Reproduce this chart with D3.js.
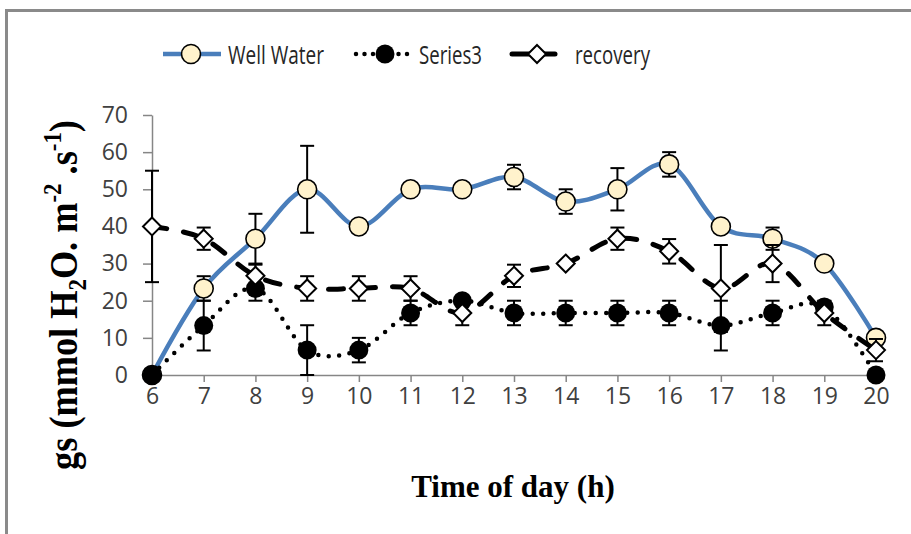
<!DOCTYPE html>
<html>
<head>
<meta charset="utf-8">
<script src="https://cdn.jsdelivr.net/npm/d3@7"></script>
<style>
  body { margin: 0; background: #fff; }
  svg { display: block; }
</style>
</head>
<body>
<div id="chart"></div>
<script>
// hours of the day
var hours = [6, 7, 8, 9, 10, 11, 12, 13, 14, 15, 16, 17, 18, 19, 20];
var yTicks = [0, 10, 20, 30, 40, 50, 60, 70];

// gs values
var wellWater    = [0, 23.3, 36.7, 50, 40, 50, 50, 53.3, 46.7, 50, 56.7, 40, 36.7, 30, 10];
var wellWaterErr = [0, 3.3, 6.7, 11.7, 0, 0, 0, 3.3, 3.3, 5.7, 3.3, 0, 3, 0, 0];
var series3      = [0, 13.3, 23.3, 6.7, 6.7, 16.7, 20, 16.7, 16.7, 16.7, 16.7, 13.3, 16.7, 18.3, 0];
var series3Err   = [0, 6.7, 3.3, 6.7, 3.3, 3.3, 0, 3.3, 3.3, 3.3, 3.3, 6.7, 3.3, 0, 0];
var recovery     = [40, 36.7, 26.7, 23.3, 23.3, 23.3, 16.7, 26.7, 30, 36.7, 33.3, 23.3, 30, 16.7, 6.7];
var recoveryErr  = [15, 3, 3, 3.3, 3.3, 3.3, 3.3, 3, 0, 3, 3.3, 11.7, 5, 3.3, 3];

var width = 911, height = 534;
var svg = d3.select("#chart").append("svg")
    .attr("width", width)
    .attr("height", height);

// frame (top and left edge only, like the cropped figure)
svg.append("line").attr("x1", 5).attr("x2", width).attr("y1", 10.5).attr("y2", 10.5)
    .style("stroke", "#8a8a8a").style("stroke-width", 3);
svg.append("line").attr("x1", 6.5).attr("x2", 6.5).attr("y1", 9).attr("y2", height)
    .style("stroke", "#8a8a8a").style("stroke-width", 3);

var x = d3.scaleLinear().domain([6, 20]).range([152, 876]);
var y = d3.scaleLinear().domain([0, 70]).range([375, 115]);

var axisColor = "#868686";
var tickFont = "'Open Sans', 'Liberation Sans', sans-serif";

// y axis
var yAxis = svg.append("g")
    .attr("transform", "translate(" + x(6) + ",0)")
    .call(d3.axisLeft(y).tickValues(yTicks).tickSize(9).tickPadding(15).tickSizeOuter(0));
yAxis.select(".domain").style("stroke", axisColor).style("stroke-width", 1.5);
yAxis.selectAll(".tick line").style("stroke", axisColor).style("stroke-width", 1.5);
yAxis.selectAll(".tick text")
    .style("font-family", tickFont).style("font-size", "23px").style("fill", "#404040");

// x axis
var xAxis = svg.append("g")
    .attr("transform", "translate(0," + y(0) + ")")
    .call(d3.axisBottom(x).tickValues(hours).tickFormat(d3.format("d")).tickSize(7).tickPadding(6).tickSizeOuter(0));
xAxis.select(".domain").style("stroke", axisColor).style("stroke-width", 1.5);
xAxis.selectAll(".tick line").style("stroke", axisColor).style("stroke-width", 1.5);
xAxis.selectAll(".tick text")
    .style("font-family", tickFont).style("font-size", "23px").style("fill", "#404040");

var smooth = d3.line()
    .x(function (d) { return x(d.h); })
    .y(function (d) { return y(d.v); })
    .curve(d3.curveCardinal.tension(0));

function rows(vals, errs) {
    return hours.map(function (h, i) { return { h: h, v: vals[i], e: errs[i] }; });
}

function errorBars(g, data) {
    var eb = g.append("g").selectAll("g").data(data.filter(function (d) { return d.e > 0; }))
        .enter().append("g");
    eb.append("line")
        .attr("x1", function (d) { return x(d.h); }).attr("x2", function (d) { return x(d.h); })
        .attr("y1", function (d) { return y(d.v - d.e); }).attr("y2", function (d) { return y(d.v + d.e); });
    eb.append("line")
        .attr("x1", function (d) { return x(d.h) - 7; }).attr("x2", function (d) { return x(d.h) + 7; })
        .attr("y1", function (d) { return y(d.v + d.e); }).attr("y2", function (d) { return y(d.v + d.e); });
    eb.append("line")
        .attr("x1", function (d) { return x(d.h) - 7; }).attr("x2", function (d) { return x(d.h) + 7; })
        .attr("y1", function (d) { return y(d.v - d.e); }).attr("y2", function (d) { return y(d.v - d.e); });
    eb.selectAll("line").style("stroke", "#000").style("stroke-width", 2);
}

var diamond = "M0,-9L9,0L0,9L-9,0Z";

// Well Water
var wwData = rows(wellWater, wellWaterErr);
var gWW = svg.append("g");
gWW.append("path").attr("d", smooth(wwData))
    .style("fill", "none").style("stroke", "#4a7ebb").style("stroke-width", 4.5);
errorBars(gWW, wwData);
gWW.selectAll("circle").data(wwData).enter().append("circle")
    .attr("cx", function (d) { return x(d.h); }).attr("cy", function (d) { return y(d.v); })
    .attr("r", 9.5)
    .style("fill", "#fff2cc").style("stroke", "#000").style("stroke-width", 1.6);

// Series3
var s3Data = rows(series3, series3Err);
var gS3 = svg.append("g");
gS3.append("path").attr("d", smooth(s3Data))
    .style("fill", "none").style("stroke", "#000").style("stroke-width", 4.5)
    .style("stroke-linecap", "round").style("stroke-dasharray", "0 10.5");
errorBars(gS3, s3Data);
gS3.selectAll("circle").data(s3Data).enter().append("circle")
    .attr("cx", function (d) { return x(d.h); }).attr("cy", function (d) { return y(d.v); })
    .attr("r", 9.5)
    .style("fill", "#000");

// recovery
var recData = rows(recovery, recoveryErr);
var gRec = svg.append("g");
gRec.append("path").attr("d", smooth(recData))
    .style("fill", "none").style("stroke", "#000").style("stroke-width", 5)
    .style("stroke-linecap", "round").style("stroke-dasharray", "15 17");
errorBars(gRec, recData);
gRec.selectAll("path.mk").data(recData).enter().append("path")
    .attr("class", "mk")
    .attr("transform", function (d) { return "translate(" + x(d.h) + "," + y(d.v) + ")"; })
    .attr("d", diamond)
    .style("fill", "#fff").style("stroke", "#000").style("stroke-width", 2);

// legend
var legendFont = "'Open Sans', 'Liberation Sans', sans-serif";
var lg = svg.append("g").attr("transform", "translate(0,54)");
lg.append("line").attr("x1", 163).attr("x2", 221).attr("y1", 0).attr("y2", 0)
    .style("stroke", "#4a7ebb").style("stroke-width", 4.5);
lg.append("circle").attr("cx", 191).attr("cy", 0).attr("r", 9.5)
    .style("fill", "#fff2cc").style("stroke", "#000").style("stroke-width", 1.6);
lg.append("text").attr("x", 228).attr("y", 10).attr("textLength", 96).attr("lengthAdjust", "spacingAndGlyphs")
    .text("Well Water");

lg.append("line").attr("x1", 356).attr("x2", 408).attr("y1", 0).attr("y2", 0)
    .style("stroke", "#000").style("stroke-width", 4.5)
    .style("stroke-linecap", "round").style("stroke-dasharray", "0 8.5");
lg.append("circle").attr("cx", 385).attr("cy", 0).attr("r", 9.5).style("fill", "#000");
lg.append("text").attr("x", 419).attr("y", 10).attr("textLength", 63).attr("lengthAdjust", "spacingAndGlyphs")
    .text("Series3");

lg.append("line").attr("x1", 512).attr("x2", 555).attr("y1", 0).attr("y2", 0)
    .style("stroke", "#000").style("stroke-width", 5).style("stroke-linecap", "round");
lg.append("path").attr("transform", "translate(537,0)").attr("d", diamond)
    .style("fill", "#fff").style("stroke", "#000").style("stroke-width", 2);
lg.append("text").attr("x", 575).attr("y", 10).attr("textLength", 75).attr("lengthAdjust", "spacingAndGlyphs")
    .text("recovery");

lg.selectAll("text")
    .style("font-family", legendFont).style("font-size", "26px").style("fill", "#262626");

// axis titles
svg.append("text")
    .attr("x", 513).attr("y", 497)
    .attr("text-anchor", "middle")
    .style("font-family", "'Liberation Serif', 'Times New Roman', serif")
    .style("font-weight", "bold").style("font-size", "31px")
    .text("Time of day (h)");

var yl = svg.append("g").attr("transform", "translate(77,295) rotate(-90)");
var ylt = yl.append("text")
    .attr("text-anchor", "middle")
    .style("font-family", "'Liberation Serif', 'Times New Roman', serif")
    .style("font-weight", "bold").style("font-size", "27px");
ylt.append("tspan").text("gs (mmol H");
ylt.append("tspan").attr("dy", 6).style("font-size", "17px").text("2");
ylt.append("tspan").attr("dy", -6).text("O. m");
ylt.append("tspan").attr("dy", -11).style("font-size", "17px").text("-2");
ylt.append("tspan").attr("dy", 11).text(" .s");
ylt.append("tspan").attr("dy", -11).style("font-size", "17px").text("-1");
ylt.append("tspan").attr("dy", 11).text(")");
var w = ylt.node().getComputedTextLength();
ylt.attr("transform", "scale(" + (350 / w) + ",1.5)");
</script>
</body>
</html>
